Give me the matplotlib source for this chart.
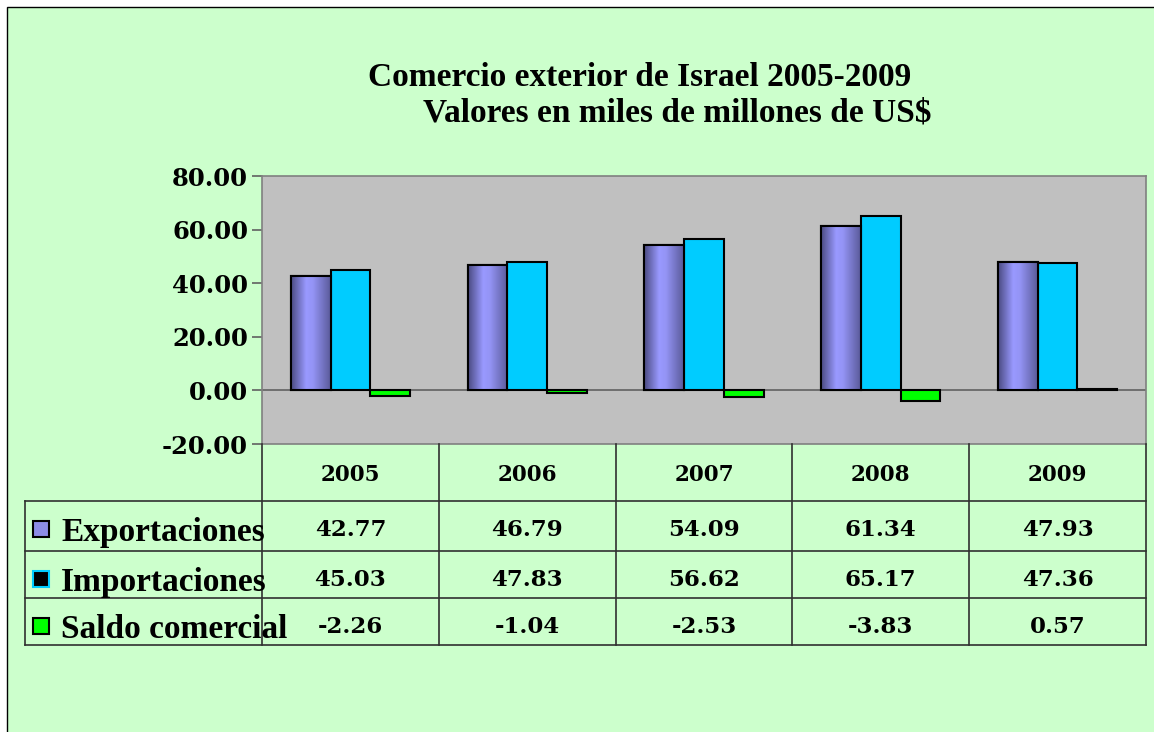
import matplotlib
matplotlib.use("Agg")
import matplotlib.pyplot as plt
import numpy as np
from matplotlib.colors import LinearSegmentedColormap
from matplotlib.patches import Rectangle

years = ["2005", "2006", "2007", "2008", "2009"]
series_names = ["Exportaciones", "Importaciones", "Saldo comercial"]
exportaciones = [42.77, 46.79, 54.09, 61.34, 47.93]
importaciones = [45.03, 47.83, 56.62, 65.17, 47.36]
saldo = [-2.26, -1.04, -2.53, -3.83, 0.57]
y_ticks = [-20, 0, 20, 40, 60, 80]

W, H = 1154, 732
BG = "#CCFFCC"
PLOT_BG = "#C0C0C0"
CYAN = "#00CCFF"
GREEN = "#00FF00"

TEXT_FONT = "Liberation Serif"
NUM_FONT = "DejaVu Serif"


def fx(px):
    return px / W


def fy(py):
    return 1 - py / H


fig = plt.figure(figsize=(W / 100, H / 100), dpi=100, facecolor="white")

# chart area with border (only left/top edges fall inside the picture)
fig.patches.append(Rectangle((fx(7), fy(745)), (1165 - 7) / W, (745 - 7) / H,
                             transform=fig.transFigure, facecolor=BG,
                             edgecolor="black", linewidth=1.0, zorder=-5))

fig.text(fx(640), fy(78), "Comercio exterior de Israel 2005-2009", ha="center", va="center",
         fontsize=24, fontweight="bold", family=TEXT_FONT)
fig.text(fx(677), fy(113), "Valores en miles de millones de US$", ha="center", va="center",
         fontsize=24, fontweight="bold", family=TEXT_FONT)

# plot area
left, right, top, bottom = 262, 1146, 176, 444
ax = fig.add_axes([fx(left), fy(bottom), (right - left) / W, (bottom - top) / H])
ax.set_facecolor(PLOT_BG)
for sp in ax.spines.values():
    sp.set_color("#808080")
    sp.set_linewidth(1.2)

x = np.arange(len(years))
bw = 0.225
exp_bars = ax.bar(x - bw, exportaciones, bw, facecolor="#9999FF", edgecolor="black",
                  linewidth=1.5, zorder=3)
ax.bar(x, importaciones, bw, facecolor=CYAN, edgecolor="black", linewidth=1.5, zorder=3)
ax.bar(x + bw, saldo, bw, facecolor=GREEN, edgecolor="black", linewidth=1.5, zorder=3)

# cylinder-like shading on export bars
cmap = LinearSegmentedColormap.from_list(
    "exp", [(0, "#4a4a80"), (0.38, "#9999FF"), (0.55, "#9494f5"), (1, "#5a5a99")])
grad = np.linspace(0, 1, 256).reshape(1, -1)
for b in exp_bars:
    bx, by = b.get_xy()
    im = ax.imshow(grad, cmap=cmap, aspect="auto", zorder=3.5,
                   extent=(bx, bx + b.get_width(), by, by + b.get_height()))
    im.set_clip_path(b)
    edge = Rectangle((bx, by), b.get_width(), b.get_height(), fill=False,
                     edgecolor="black", linewidth=1.5, zorder=4)
    ax.add_patch(edge)

ax.axhline(0, color="#606060", linewidth=1.2, zorder=2)
ax.set_xlim(-0.5, len(years) - 0.5)
ax.set_ylim(-20, 80)
ax.set_yticks(y_ticks)
ax.set_yticklabels([f"{v:.2f}" for v in y_ticks], fontsize=17.5, fontweight="bold",
                   family=NUM_FONT)
ax.tick_params(axis="y", direction="out", length=7, width=1.2, color="#606060", pad=3)
ax.set_xticks([])

# data table below the plot
line_kw = dict(color="#303030", linewidth=1.2)
row_lines = [501, 551, 598, 645]
col_edges = [left + i * (right - left) / len(years) for i in range(len(years) + 1)]
for yl in row_lines:
    fig.add_artist(plt.Line2D([fx(25), fx(right)], [fy(yl), fy(yl)], **line_kw))
fig.add_artist(plt.Line2D([fx(25), fx(25)], [fy(501), fy(645)], **line_kw))
for cx in col_edges:
    fig.add_artist(plt.Line2D([fx(cx), fx(cx)], [fy(bottom), fy(645)], **line_kw))

for i, yr in enumerate(years):
    cx = (col_edges[i] + col_edges[i + 1]) / 2
    fig.text(fx(cx), fy(475), yr, ha="center", va="center", fontsize=15.5,
             fontweight="bold", family=NUM_FONT)

rows = [exportaciones, importaciones, saldo]
row_y = [530, 580, 627]
key_face = ["#8c8ce6", "black", GREEN]
key_edge = ["black", CYAN, "black"]
for r, (vals, ry) in enumerate(zip(rows, row_y)):
    for i, v in enumerate(vals):
        cx = (col_edges[i] + col_edges[i + 1]) / 2
        fig.text(fx(cx), fy(ry), f"{v:.2f}", ha="center", va="center", fontsize=16.5,
                 fontweight="bold", family=NUM_FONT)
    fig.patches.append(Rectangle((fx(33), fy(ry + 7)), 16 / W, 16 / H,
                                 transform=fig.transFigure, facecolor=key_face[r],
                                 edgecolor=key_edge[r], linewidth=1.5))
    fig.text(fx(61), fy(ry + 2), series_names[r], ha="left", va="center", fontsize=24,
             fontweight="bold", family=TEXT_FONT)

fig.savefig("out.png", dpi=100, facecolor=fig.get_facecolor())
